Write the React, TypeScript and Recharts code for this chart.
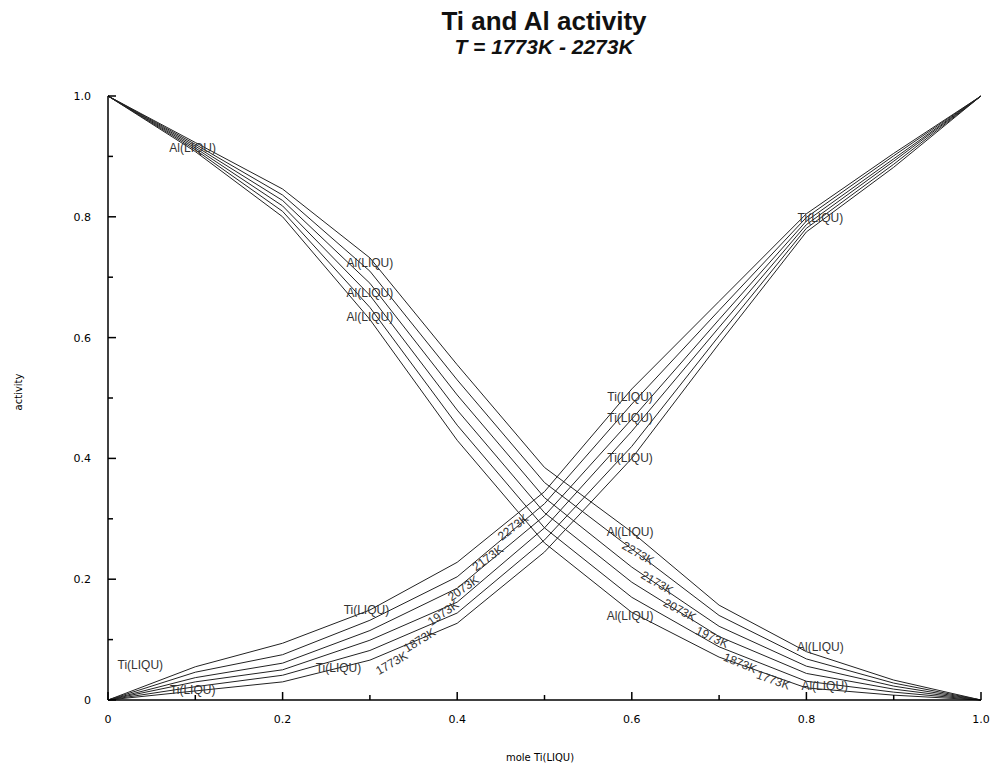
import React from 'react';
import { LineChart, Line, XAxis, YAxis, ReferenceDot } from 'recharts';

// mole fraction Ti (x axis)
const moleTi = [0, 0.1, 0.2, 0.3, 0.4, 0.5, 0.6, 0.7, 0.8, 0.9, 1.0];
const temperatures = ['1773K', '1873K', '1973K', '2073K', '2173K', '2273K'];

// Ti activity per temperature
const tiActivity1773 = [0, 0.015, 0.030, 0.066, 0.127, 0.245, 0.400, 0.590, 0.775, 0.882, 1];
const tiActivity1873 = [0, 0.022, 0.041, 0.082, 0.144, 0.265, 0.420, 0.603, 0.781, 0.887, 1];
const tiActivity1973 = [0, 0.030, 0.050, 0.099, 0.162, 0.285, 0.445, 0.617, 0.787, 0.892, 1];
const tiActivity2073 = [0, 0.037, 0.061, 0.115, 0.185, 0.305, 0.465, 0.630, 0.793, 0.896, 1];
const tiActivity2173 = [0, 0.046, 0.075, 0.132, 0.204, 0.325, 0.490, 0.645, 0.799, 0.901, 1];
const tiActivity2273 = [0, 0.055, 0.094, 0.149, 0.228, 0.345, 0.515, 0.660, 0.805, 0.905, 1];

// Al activity per temperature
const alActivity1773 = [1, 0.908, 0.800, 0.630, 0.430, 0.260, 0.145, 0.071, 0.020, 0.008, 0];
const alActivity1873 = [1, 0.911, 0.809, 0.650, 0.455, 0.285, 0.170, 0.088, 0.031, 0.013, 0];
const alActivity1973 = [1, 0.914, 0.818, 0.670, 0.480, 0.310, 0.195, 0.105, 0.044, 0.018, 0];
const alActivity2073 = [1, 0.917, 0.827, 0.690, 0.505, 0.335, 0.220, 0.122, 0.056, 0.023, 0];
const alActivity2173 = [1, 0.920, 0.836, 0.710, 0.530, 0.360, 0.250, 0.140, 0.068, 0.028, 0];
const alActivity2273 = [1, 0.923, 0.846, 0.732, 0.555, 0.385, 0.278, 0.157, 0.080, 0.033, 0];

const tiSeries = [tiActivity1773, tiActivity1873, tiActivity1973, tiActivity2073, tiActivity2173, tiActivity2273];
const alSeries = [alActivity1773, alActivity1873, alActivity1973, alActivity2073, alActivity2173, alActivity2273];

const tickValues = [0, 0.1, 0.2, 0.3, 0.4, 0.5, 0.6, 0.7, 0.8, 0.9, 1.0];
const labeledTicks = ['0', '', '0.2', '', '0.4', '', '0.6', '', '0.8', '', '1.0'];

// on-curve phase labels (data coordinates)
const alLabelPos = [
  { x: 0.097, y: 0.914 }, { x: 0.300, y: 0.724 }, { x: 0.300, y: 0.674 }, { x: 0.300, y: 0.634 },
  { x: 0.598, y: 0.278 }, { x: 0.598, y: 0.139 }, { x: 0.816, y: 0.088 }, { x: 0.821, y: 0.023 },
];
const tiLabelPos = [
  { x: 0.816, y: 0.798 }, { x: 0.598, y: 0.502 }, { x: 0.598, y: 0.467 }, { x: 0.598, y: 0.401 },
  { x: 0.296, y: 0.149 }, { x: 0.037, y: 0.058 }, { x: 0.264, y: 0.053 }, { x: 0.097, y: 0.017 },
];
const tiTempLabels = [
  { t: '1773K', x: 0.325, y: 0.061, a: -30 },
  { t: '1873K', x: 0.357, y: 0.099, a: -32 },
  { t: '1973K', x: 0.384, y: 0.144, a: -35 },
  { t: '2073K', x: 0.407, y: 0.185, a: -35 },
  { t: '2173K', x: 0.435, y: 0.235, a: -36 },
  { t: '2273K', x: 0.464, y: 0.286, a: -38 },
];
const alTempLabels = [
  { t: '2273K', x: 0.607, y: 0.243, a: 30 },
  { t: '2173K', x: 0.629, y: 0.194, a: 30 },
  { t: '2073K', x: 0.655, y: 0.149, a: 28 },
  { t: '1973K', x: 0.692, y: 0.104, a: 25 },
  { t: '1873K', x: 0.724, y: 0.061, a: 22 },
  { t: '1773K', x: 0.762, y: 0.033, a: 20 },
];

const data = moleTi.map((x, i) => {
  const row: Record<string, number> = { x };
  temperatures.forEach((t, k) => {
    row['ti' + t] = tiSeries[k][i];
    row['al' + t] = alSeries[k][i];
  });
  return row;
});

const idx = (v: number) => Math.round(v * 10);
const isMajor = (v: number) => idx(v) % 2 === 0;

const tickFont = { fontFamily: 'DejaVu Sans, sans-serif', fontSize: 11, fill: '#000' };

const BottomTick = (p: any) => {
  const v = p.payload.value;
  const len = isMajor(v) ? 8 : 5;
  return (
    <g>
      <line x1={p.x} y1={p.y} x2={p.x} y2={p.y - len} stroke="#000" strokeWidth={1.5} />
      {isMajor(v) && (
        <text x={p.x} y={p.y + 23} textAnchor="middle" {...tickFont}>{labeledTicks[idx(v)]}</text>
      )}
    </g>
  );
};
const TopTick = (p: any) => {
  const v = p.payload.value;
  const len = isMajor(v) ? 8 : 5;
  return <line x1={p.x} y1={p.y} x2={p.x} y2={p.y + len} stroke="#000" strokeWidth={1.5} />;
};
const LeftTick = (p: any) => {
  const v = p.payload.value;
  const len = isMajor(v) ? 8 : 5;
  return (
    <g>
      <line x1={p.x} y1={p.y} x2={p.x + len} y2={p.y} stroke="#000" strokeWidth={1.5} />
      {isMajor(v) && (
        <text x={p.x - 17} y={p.y + 4} textAnchor="end" {...tickFont}>{labeledTicks[idx(v)]}</text>
      )}
    </g>
  );
};
const RightTick = (p: any) => {
  const v = p.payload.value;
  const len = isMajor(v) ? 8 : 5;
  return <line x1={p.x} y1={p.y} x2={p.x - len} y2={p.y} stroke="#000" strokeWidth={1.5} />;
};

const curveFont = { fontFamily: 'Liberation Sans, Arial, sans-serif', fontSize: 12, fill: '#333' };

const makeText = (text: string, angle: number) => (p: any) => (
  <text
    x={p.cx}
    y={p.cy}
    textAnchor="middle"
    dominantBaseline="central"
    transform={angle ? `rotate(${angle} ${p.cx} ${p.cy})` : undefined}
    {...curveFont}
  >
    {text}
  </text>
);

export default function App() {
  return (
    <div style={{ position: 'absolute', left: 0, top: 0, width: 993, height: 767, background: '#fff' }}>
      <div style={{ position: 'absolute', left: 0, width: 1088, top: 6, textAlign: 'center', fontFamily: 'Liberation Sans, Arial, sans-serif', fontSize: 26, fontWeight: 'bold', color: '#111' }}>
        Ti and Al activity
      </div>
      <div style={{ position: 'absolute', left: 0, width: 1088, top: 35, textAlign: 'center', fontFamily: 'Liberation Sans, Arial, sans-serif', fontSize: 21, fontWeight: 'bold', fontStyle: 'italic', color: '#111' }}>
        T = 1773K - 2273K
      </div>
      <div style={{ position: 'absolute', left: 18, top: 392, width: 0, height: 0 }}>
        <div style={{ position: 'absolute', transform: 'translate(-50%, -50%) rotate(-90deg)', fontFamily: 'DejaVu Sans, sans-serif', fontSize: 10, whiteSpace: 'nowrap', color: '#000' }}>
          activity
        </div>
      </div>
      <div style={{ position: 'absolute', left: 0, width: 1080, top: 752, textAlign: 'center', fontFamily: 'DejaVu Sans, sans-serif', fontSize: 10, color: '#000' }}>
        mole Ti(LIQU)
      </div>
      <LineChart width={993} height={767} data={data} margin={{ top: 96, right: 12, bottom: 0, left: 0 }}>
        <XAxis
          dataKey="x"
          type="number"
          domain={[0, 1]}
          ticks={tickValues}
          interval={0}
          height={67}
          tickSize={0}
          tickMargin={0}
          tickLine={false}
          axisLine={{ stroke: '#000', strokeWidth: 1.5 }}
          tick={<BottomTick />}
        />
        <XAxis
          xAxisId="top"
          orientation="top"
          dataKey="x"
          type="number"
          domain={[0, 1]}
          ticks={tickValues}
          interval={0}
          height={0}
          tickSize={0}
          tickMargin={0}
          tickLine={false}
          axisLine={{ stroke: '#000', strokeWidth: 1.5 }}
          tick={<TopTick />}
        />
        <YAxis
          type="number"
          domain={[0, 1]}
          ticks={tickValues}
          interval={0}
          width={108}
          tickSize={0}
          tickMargin={0}
          tickLine={false}
          axisLine={{ stroke: '#000', strokeWidth: 1.5 }}
          tick={<LeftTick />}
        />
        <YAxis
          yAxisId="right"
          orientation="right"
          type="number"
          domain={[0, 1]}
          ticks={tickValues}
          interval={0}
          width={0}
          tickSize={0}
          tickMargin={0}
          tickLine={false}
          axisLine={{ stroke: '#000', strokeWidth: 1.5 }}
          tick={<RightTick />}
        />
        {temperatures.map((t) => (
          <Line key={'ti' + t} type="linear" dataKey={'ti' + t} stroke="#222" strokeWidth={1} dot={false} isAnimationActive={false} />
        ))}
        {temperatures.map((t) => (
          <Line key={'al' + t} type="linear" dataKey={'al' + t} stroke="#222" strokeWidth={1} dot={false} isAnimationActive={false} />
        ))}
        {alLabelPos.map((p, i) => (
          <ReferenceDot key={'al' + i} x={p.x} y={p.y} r={2} shape={makeText('Al(LIQU)', 0)} />
        ))}
        {tiLabelPos.map((p, i) => (
          <ReferenceDot key={'tl' + i} x={p.x} y={p.y} r={2} shape={makeText('Ti(LIQU)', 0)} />
        ))}
        {tiTempLabels.map((p, i) => (
          <ReferenceDot key={'tt' + i} x={p.x} y={p.y} r={2} shape={makeText(p.t, p.a)} />
        ))}
        {alTempLabels.map((p, i) => (
          <ReferenceDot key={'at' + i} x={p.x} y={p.y} r={2} shape={makeText(p.t, p.a)} />
        ))}
      </LineChart>
    </div>
  );
}
